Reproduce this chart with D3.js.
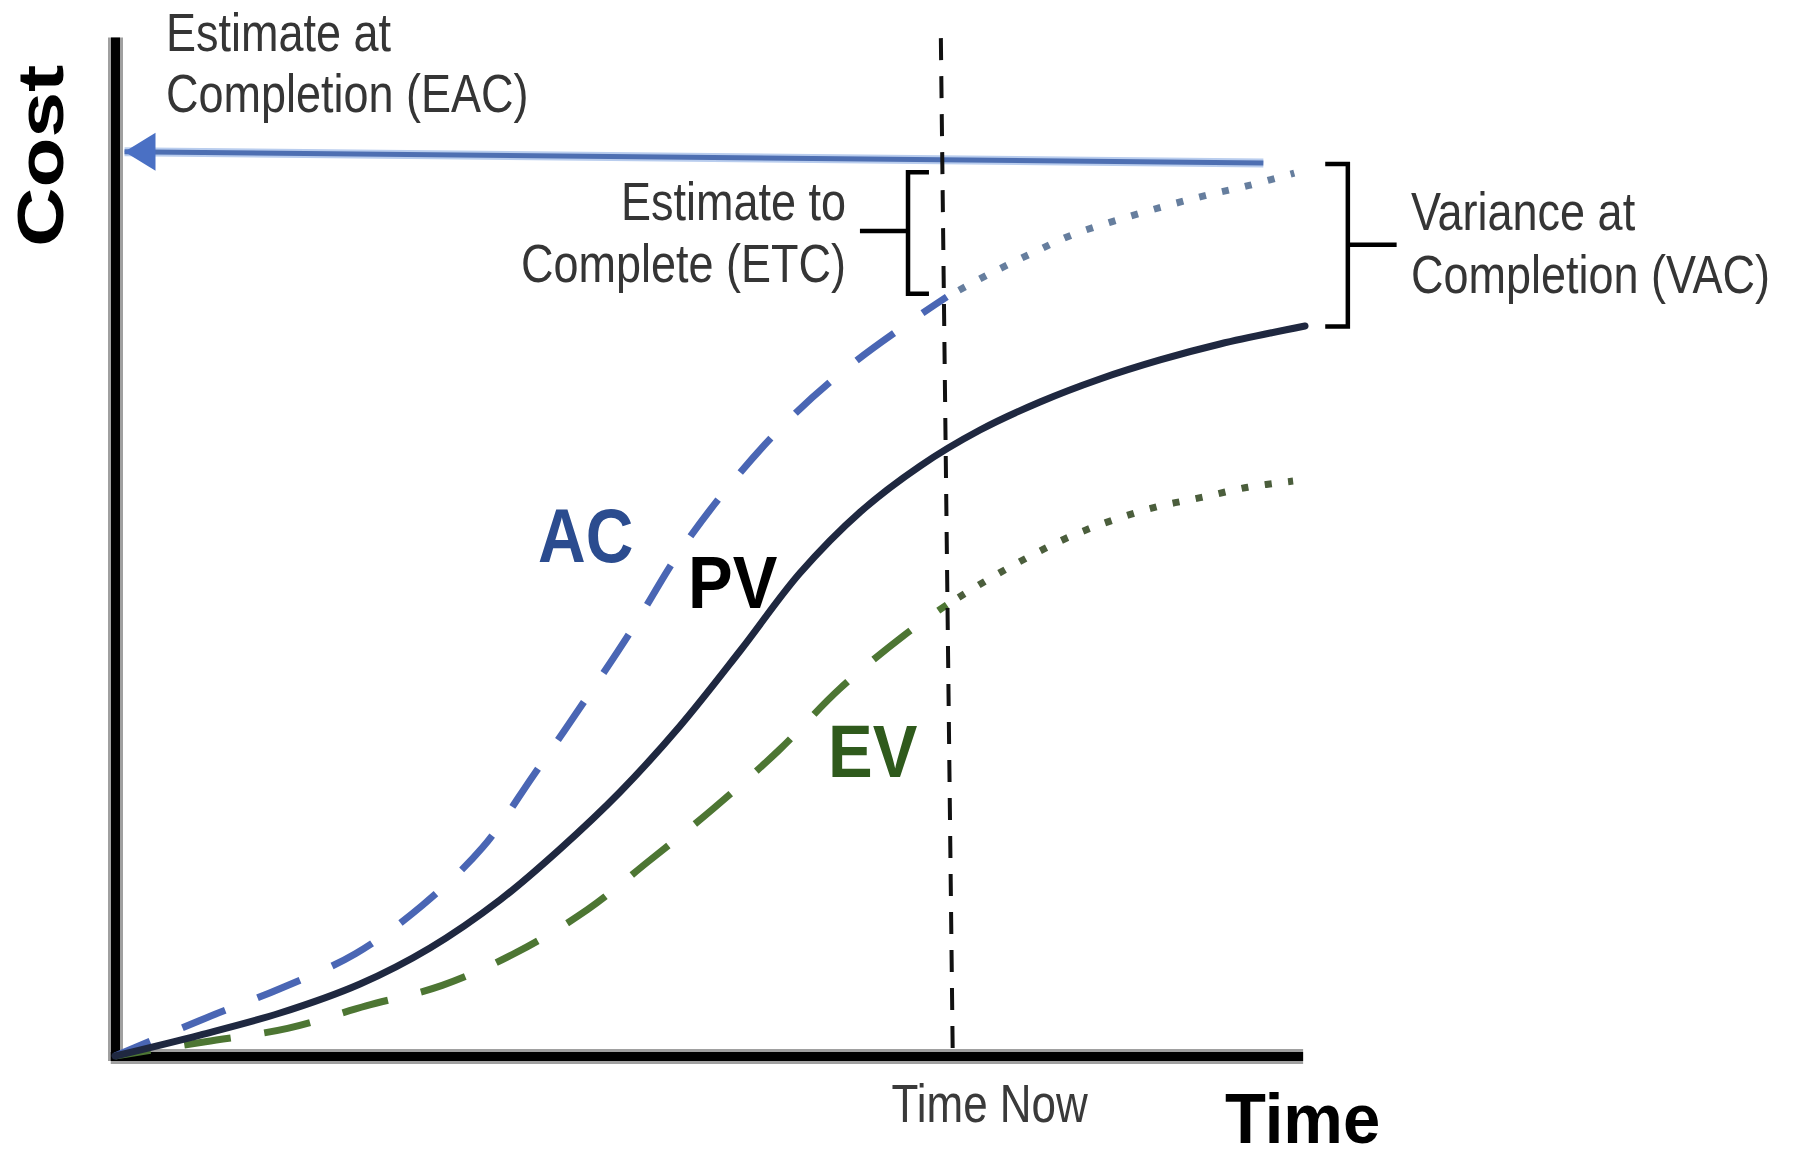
<!DOCTYPE html>
<html>
<head>
<meta charset="utf-8">
<script src="https://cdn.jsdelivr.net/npm/d3@7"></script>
<style>
  html, body { margin: 0; padding: 0; background: #ffffff; }
  svg { display: block; }
  text { font-family: "Liberation Sans", Arial, sans-serif; }
</style>
</head>
<body>
<svg id="chart" width="1796" height="1158"></svg>
<script>
// ---------------- DATA (time 0-100, cost 0-100) ----------------
const pvTime = [0, 7.14, 13.87, 20.59, 26.47, 32.35, 37.39, 42.44, 47.48, 52.52, 57.56, 62.61, 67.65, 72.69, 77.73, 82.77, 87.82, 92.86, 100];
const pvCost = [0, 2.05, 4.20, 7.04, 10.56, 15.25, 20.23, 25.81, 32.26, 39.59, 47.21, 53.17, 57.67, 61.19, 63.93, 66.18, 68.04, 69.60, 71.36];

const acTime = [0, 7.6, 13.9, 20.2, 25.8, 30.9, 35.2, 39.4, 43.5, 47.4, 51.8, 56.7, 62.0, 67.6, 69.9];
const acCost = [0, 3.7, 6.6, 10.0, 14.7, 20.4, 27.5, 34.6, 41.8, 49.2, 56.0, 62.3, 67.7, 72.4, 74.2];

const acForecastTime = [69.9, 73.4, 77.1, 80.5, 84.2, 88.0, 91.6, 95.3, 99.1];
const acForecastCost = [74.2, 76.4, 78.5, 80.3, 81.7, 83.0, 84.1, 85.1, 86.3];

const evTime = [0, 7.6, 14.5, 21.1, 27.5, 33.7, 39.7, 44.8, 50.3, 55.8, 60.9, 66.4, 69.9];
const evCost = [0, 1.4, 2.7, 4.9, 6.9, 10.1, 14.3, 19.0, 24.2, 29.9, 35.9, 41.2, 44.1];

const evForecastTime = [69.9, 73.4, 76.8, 80.3, 83.9, 87.6, 91.3, 95.2, 99.0];
const evForecastCost = [44.1, 46.6, 48.8, 50.8, 52.4, 53.7, 54.6, 55.6, 56.2];

const eacTime = [96.5, 0.8];
const eacCost = [87.3, 88.4];

const timeNowTime = [69.4, 70.4];
const timeNowCost = [99.5, 0];

const seriesLabels = ["AC", "PV", "EV"];
const axisLabels = ["Cost", "Time"];
const annotationLines = {
  eac: ["Estimate at", "Completion (EAC)"],
  etc: ["Estimate to", "Complete (ETC)"],
  vac: ["Variance at", "Completion (VAC)"],
  now: ["Time Now"]
};

// ---------------- SCALES ----------------
const svg = d3.select("#chart");
const x = d3.scaleLinear().domain([0, 100]).range([115, 1305]);
const y = d3.scaleLinear().domain([0, 100]).range([1056, 33]);

const zip = (a, b) => a.map((v, i) => [v, b[i]]);
const line = d3.line().x(d => x(d[0])).y(d => y(d[1])).curve(d3.curveCatmullRom.alpha(0.5));
const straight = d3.line().x(d => x(d[0])).y(d => y(d[1]));

// ---------------- AXES ----------------
const xAxisScale = d3.scaleLinear().domain([-0.4, 99.8]).range([x(-0.4), x(99.8)]);
const yAxisScale = d3.scaleLinear().domain([-0.44, 99.6]).range([y(-0.44), y(99.6)]);
const xAxis = d3.axisBottom(xAxisScale).tickValues([]).tickSizeOuter(0);
const yAxis = d3.axisLeft(yAxisScale).tickValues([]).tickSizeOuter(0);
function axisLayer(axis, transform, color, width) {
  const g = svg.append("g").attr("transform", transform).call(axis);
  g.select(".domain").attr("stroke", color).attr("stroke-width", width).attr("stroke-linecap", "butt");
}
axisLayer(xAxis, `translate(0,${y(0)})`, "#a0a0a0", 15);
axisLayer(yAxis, `translate(${x(0)},0)`, "#a0a0a0", 15);
axisLayer(xAxis, `translate(0,${y(0)})`, "#000", 9);
axisLayer(yAxis, `translate(${x(0)},0)`, "#000", 9);

// ---------------- EAC LINE + ARROW ----------------
const eacPts = zip(eacTime, eacCost);
svg.append("path").attr("d", straight(eacPts)).attr("fill", "none")
  .attr("stroke", "#b9cdee").attr("stroke-width", 9);
svg.append("path").attr("d", straight(eacPts)).attr("fill", "none")
  .attr("stroke", "#4e6fb2").attr("stroke-width", 5);
{
  const tipX = x(eacTime[1]), tipY = y(eacCost[1]);
  svg.append("path")
    .attr("d", `M${tipX},${tipY} L${tipX + 31},${tipY - 19} L${tipX + 31},${tipY + 19} Z`)
    .attr("fill", "#4a70c4");
}

// ---------------- CURVES ----------------
svg.append("path").attr("d", line(zip(acForecastTime, acForecastCost))).attr("fill", "none")
  .attr("stroke", "#667e9e").attr("stroke-width", 7).attr("stroke-dasharray", "7,16.5").attr("stroke-dashoffset", -14);
svg.append("path").attr("d", line(zip(evForecastTime, evForecastCost))).attr("fill", "none")
  .attr("stroke", "#4b5e3c").attr("stroke-width", 7).attr("stroke-dasharray", "7,16.5").attr("stroke-dashoffset", -14);

svg.append("path").attr("d", line(zip(evTime, evCost))).attr("fill", "none")
  .attr("stroke", "#4d7633").attr("stroke-width", 7).attr("stroke-dasharray", "47,34").attr("stroke-dashoffset", 11);
svg.append("path").attr("d", line(zip(acTime, acCost))).attr("fill", "none")
  .attr("stroke", "#4a66b4").attr("stroke-width", 7).attr("stroke-dasharray", "46,35").attr("stroke-dashoffset", 8);
svg.append("path").attr("d", line(zip(pvTime, pvCost))).attr("fill", "none")
  .attr("stroke", "#1f2840").attr("stroke-width", 7).attr("stroke-linecap", "round");

// ---------------- TIME NOW ----------------
svg.append("path").attr("d", straight(zip(timeNowTime, timeNowCost))).attr("fill", "none")
  .attr("stroke", "#111").attr("stroke-width", 4).attr("stroke-dasharray", "22,16");

// ---------------- BRACKETS ----------------
function bracket(xv, xSerif, xTick, top, bottom, mid) {
  svg.append("path")
    .attr("d", `M${x(xSerif)},${y(top)} H${x(xv)} V${y(bottom)} H${x(xSerif)} M${x(xv)},${y(mid)} H${x(xTick)}`)
    .attr("fill", "none").attr("stroke", "#000").attr("stroke-width", 4.5);
}
bracket(66.64, 68.4, 62.6, 86.4, 74.5, 80.65);   // ETC
bracket(103.6, 101.7, 107.7, 87.2, 71.3, 79.3);  // VAC

// ---------------- TEXT ----------------
function label(str, tv, cv, opts) {
  return svg.append("text")
    .attr("transform", `translate(${x(tv)},${y(cv)}) scale(1,${opts.sy || 1})`)
    .attr("font-size", opts.size)
    .attr("font-weight", opts.weight || "normal")
    .attr("fill", opts.fill || "#333")
    .attr("text-anchor", opts.anchor || "start")
    .text(str);
}
const reg = { size: 45, sy: 1.2, fill: "#353535" };
label(annotationLines.eac[0], 4.29, 98.2, reg);
label(annotationLines.eac[1], 4.29, 92.3, reg);
label(annotationLines.etc[0], 61.43, 81.7, Object.assign({}, reg, { anchor: "end" }));
label(annotationLines.etc[1], 61.43, 75.66, Object.assign({}, reg, { anchor: "end" }));
label(annotationLines.vac[0], 108.9, 80.74, reg);
label(annotationLines.vac[1], 108.9, 74.58, reg);
label(annotationLines.now[0], 73.5, -6.45, { size: 44, sy: 1.22, fill: "#3a3a3a", anchor: "middle" });

label(seriesLabels[0], 35.55, 48.3, { size: 66, sy: 1.14, weight: "bold", fill: "#2b4c8f" });
label(seriesLabels[1], 48.15, 43.8, { size: 67, sy: 1.12, weight: "bold", fill: "#000" });
label(seriesLabels[2], 59.92, 27.3, { size: 67, sy: 1.12, weight: "bold", fill: "#2f5a1c" });

label(axisLabels[1], 93.28, -8.5, { size: 67, sy: 1.04, weight: "bold", fill: "#000" });
svg.append("text")
  .attr("transform", `translate(${x(-4.37)},${y(88.0)}) rotate(-90)`)
  .attr("font-size", 65).attr("font-weight", "bold").attr("fill", "#000")
  .attr("text-anchor", "middle")
  .attr("textLength", 182).attr("lengthAdjust", "spacingAndGlyphs")
  .text(axisLabels[0]);
</script>
</body>
</html>
